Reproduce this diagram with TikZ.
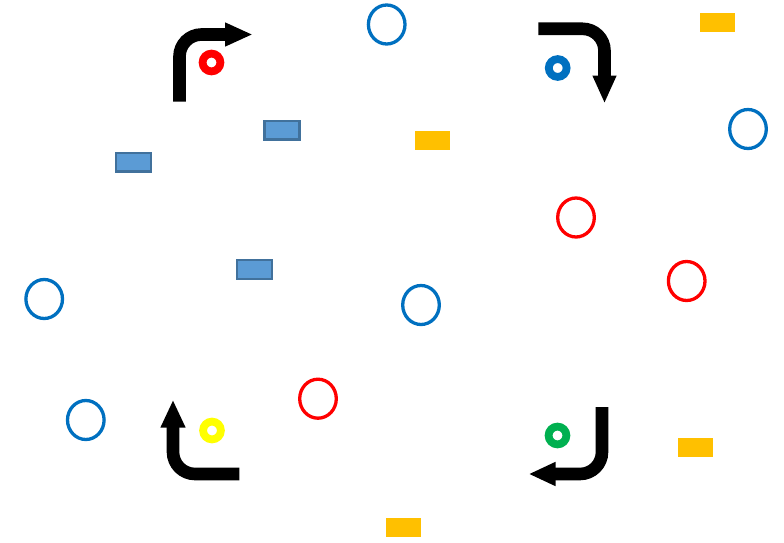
\documentclass[tikz,border=0pt]{standalone}
\usetikzlibrary{shapes.geometric}
\definecolor{oblue}{HTML}{0070C0}
\definecolor{ored}{HTML}{FF0000}
\definecolor{rfill}{HTML}{5B9BD5}
\definecolor{rline}{HTML}{41719C}
\definecolor{gold}{HTML}{FFC000}
\definecolor{yel}{HTML}{FFFF00}
\definecolor{grn}{HTML}{00B050}
\begin{document}
\begin{tikzpicture}[x=1pt,y=-1pt,
  oval/.style={ellipse,draw,line width=3.3pt,minimum width=36.6pt,minimum height=39pt,inner sep=0pt},
  blueoval/.style={oval,draw=oblue},
  redoval/.style={oval,draw=ored},
  bluebox/.style={rectangle,draw=rline,fill=rfill,line width=2.2pt,minimum width=35pt,minimum height=18.8pt,inner sep=0pt},
  goldbox/.style={rectangle,fill=gold,minimum width=35pt,minimum height=19pt,inner sep=0pt},
  ring/.style={circle,draw,line width=7.8pt,minimum size=17.8pt,inner sep=0pt},
  shaft/.style={line width=12.6pt,rounded corners=22pt,black},
  tiphead/.style={fill=black}]
\useasboundingbox (0,0) rectangle (784,543);

% blue ovals
\node[blueoval] (bo1) at (386.7,24.5) {};
\node[blueoval] (bo2) at (748,129) {};
\node[blueoval] (bo3) at (44.2,299) {};
\node[blueoval] (bo4) at (421,305) {};
\node[blueoval] (bo5) at (85.8,420) {};
% red ovals
\node[redoval] (ro1) at (576,217.5) {};
\node[redoval] (ro2) at (686.7,281) {};
\node[redoval] (ro3) at (318,398.7) {};
% blue boxes
\node[bluebox] (bb1) at (282,130) {};
\node[bluebox] (bb2) at (133.7,162) {};
\node[bluebox] (bb3) at (254.7,269.7) {};
% gold boxes
\node[goldbox] (gb1) at (717.5,23) {};
\node[goldbox] (gb2) at (432.5,140.5) {};
\node[goldbox] (gb3) at (695.5,447) {};
\node[goldbox] (gb4) at (403.5,527.5) {};
% rings
\node[ring,draw=ored] (r1) at (211.5,62.5) {};
\node[ring,draw=oblue] (r2) at (557.7,68) {};
\node[ring,draw=yel] (r3) at (212,430.5) {};
\node[ring,draw=grn] (r4) at (557.5,435.5) {};

% bent arrows
\draw[shaft] (179.5,101.7) -- (179.5,34.5) -- (226,34.5);
\fill[tiphead] (225,22.3) -- (251.7,34.5) -- (225,46.7) -- cycle;

\draw[shaft] (538.3,28.8) -- (604.5,28.8) -- (604.5,76.5);
\fill[tiphead] (592.3,75.5) -- (616.7,75.5) -- (604.5,102.4) -- cycle;

\draw[shaft] (239.3,474) -- (173,474) -- (173,426.5);
\fill[tiphead] (160.3,427.7) -- (185.7,427.7) -- (173,400.7) -- cycle;

\draw[shaft] (602,407) -- (602,474) -- (554.5,474);
\fill[tiphead] (555.5,461.8) -- (555.5,486.2) -- (529.5,474) -- cycle;
\end{tikzpicture}
\end{document}
